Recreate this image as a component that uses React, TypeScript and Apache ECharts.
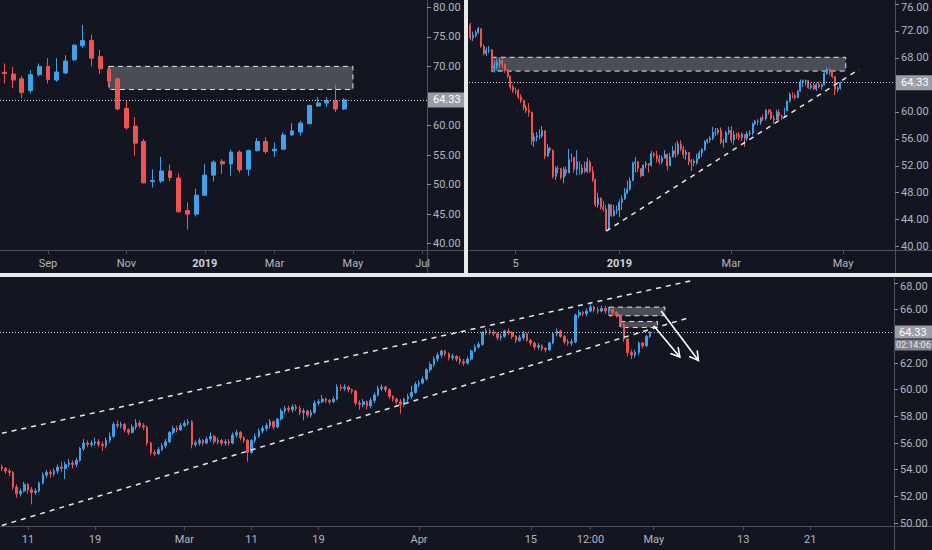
import React, { useEffect, useRef } from "react";
import * as echarts from "echarts";

// ---------- colours ----------
const UP = "#42a0e8";
const DOWN = "#ef5350";
const BG = "#131621";
const AXIS = "#4c505b";
const TXT = "#b2b5be";
const LAST_PRICE = 64.33;

// ---------- weekly panel (top-left) ----------
// [open, close, low, high]
const weeklyCandles = [
  [69.0, 68.8, 67.1, 70.5], [68.7, 67.7, 66.3, 69.9], [67.9, 65.6, 64.6, 68.4], [65.9, 68.6, 65.4, 69.4],
  [68.6, 70.0, 68.3, 70.5], [70.0, 67.8, 67.1, 71.4], [67.7, 69.05, 67.4, 71.4], [68.9, 70.9, 68.7, 71.9],
  [71.1, 73.6, 71.0, 73.7], [73.5, 74.4, 73.1, 77.0], [74.4, 71.4, 70.0, 75.4], [71.65, 69.6, 68.7, 72.8],
  [69.5, 67.5, 67.2, 69.8], [67.9, 62.8, 62.6, 68.1], [62.9, 59.6, 59.3, 64.3], [59.9, 57.0, 54.9, 61.4],
  [57.3, 50.3, 50.2, 57.7], [50.5, 50.7, 49.5, 52.6], [50.6, 52.3, 50.3, 54.7], [52.3, 51.2, 50.6, 53.4],
  [51.1, 45.4, 45.3, 51.9], [45.6, 45.0, 42.4, 47.0], [45.0, 48.2, 44.6, 49.3], [48.2, 51.6, 48.1, 53.5],
  [51.6, 53.8, 50.5, 54.1], [53.9, 53.5, 51.8, 54.3], [53.5, 55.5, 51.5, 55.9], [55.5, 52.5, 52.0, 55.8],
  [52.6, 55.75, 51.5, 55.9], [55.75, 57.3, 55.6, 57.9], [57.3, 55.6, 55.2, 58.0], [55.7, 56.0, 54.7, 57.1],
  [56.0, 58.4, 55.9, 58.8], [58.4, 59.1, 58.3, 60.4], [58.9, 60.4, 58.3, 60.8], [60.3, 63.4, 60.3, 63.5],
  [63.3, 63.8, 63.2, 64.8], [63.8, 64.2, 63.2, 64.8], [64.2, 62.8, 62.3, 66.9], [62.8, 64.33, 62.6, 64.6],
];
const weeklyCategoryCount = 49;
const weeklyTickIndex = [5, 14, 23, 31, 40, 48];
const weeklyTickText = ["Sep", "Nov", "2019", "Mar", "May", "Jul"];
const weeklyZone = { from: 12, to: 40, top: 70.0, bottom: 66.1 };

// ---------- daily panel (top-right) ----------
const dailyFirstOpen = 72.9;
const dailyClose = [
  70.97, 71.34, 71.78, 72.35, 69.75, 68.65, 69.12, 69.17, 66.43, 66.82,
  67.33, 67.59, 67.04, 66.18, 65.31, 63.69, 63.14, 63.10, 62.21, 61.67,
  60.67, 60.19, 59.93, 55.69, 56.25, 56.46, 56.46, 57.20, 53.43, 54.63,
  54.30, 50.42, 51.63, 51.56, 50.29, 51.45, 50.93, 52.95, 53.25, 51.49,
  52.61, 51.00, 51.65, 51.15, 52.58, 51.20, 49.88, 46.24, 47.20, 45.88,
  45.59, 42.53, 46.22, 44.61, 45.33, 45.41, 46.54, 47.09, 47.96, 48.52,
  49.78, 52.36, 52.59, 51.59, 50.51, 52.11, 52.31, 52.07, 53.80, 53.55,
  53.01, 52.62, 53.13, 53.69, 51.99, 53.31, 54.23, 53.79, 55.26, 54.56,
  53.66, 54.01, 52.64, 52.72, 52.41, 53.10, 53.90, 54.41, 55.59, 55.85,
  56.09, 56.92, 56.96, 57.26, 55.48, 55.50, 56.94, 57.22, 55.80, 56.59,
  56.56, 56.22, 56.66, 56.07, 56.79, 56.87, 58.26, 58.61, 58.52, 59.09,
  59.03, 60.23, 59.98, 59.04, 58.82, 59.94, 59.41, 59.30, 60.14, 61.59,
  62.58, 62.46, 62.10, 63.08, 64.40, 64.61, 64.61, 63.58, 63.89, 63.40,
  64.05, 63.76, 64.00, 65.70, 66.30, 65.89, 65.21, 63.30, 63.50, 64.33,
];
const dailyHigh = [
  73.2, 71.9, 72.1, 72.6, 72.3, 70.0, 69.6, 69.8, 69.3, 67.5,
  67.8, 68.0, 68.0, 67.2, 66.4, 65.4, 64.0, 63.6, 63.4, 62.6,
  61.8, 61.0, 61.3, 60.0, 56.9, 57.0, 57.4, 57.9, 57.2, 55.2,
  54.8, 54.4, 51.9, 52.0, 51.7, 51.8, 51.9, 54.5, 53.8, 53.3,
  54.3, 52.7, 52.2, 52.6, 53.2, 52.8, 51.9, 50.1, 48.0, 47.3,
  46.8, 46.2, 46.4, 46.2, 46.2, 46.1, 47.0, 47.6, 48.7, 49.8,
  50.3, 52.6, 53.3, 52.7, 51.4, 52.2, 52.7, 52.4, 54.2, 54.0,
  54.2, 53.6, 53.5, 54.3, 53.6, 53.9, 54.9, 55.4, 55.7, 55.8,
  54.9, 54.4, 54.0, 53.0, 53.0, 53.8, 54.3, 54.6, 55.8, 56.0,
  56.4, 57.8, 57.6, 57.6, 57.7, 56.0, 57.2, 57.8, 57.9, 57.2,
  56.9, 57.0, 56.9, 56.7, 57.1, 57.3, 58.4, 58.8, 58.9, 59.2,
  59.6, 60.4, 60.4, 60.4, 59.5, 60.3, 60.4, 59.6, 60.6, 61.7,
  62.9, 62.9, 62.7, 63.2, 64.8, 64.8, 64.8, 64.7, 64.3, 64.3,
  64.3, 64.5, 64.2, 66.0, 66.6, 66.5, 66.3, 65.3, 63.8, 64.5,
];
const dailyLow = [
  70.6, 70.5, 71.0, 71.6, 69.5, 68.4, 68.3, 68.7, 65.9, 65.8,
  66.3, 66.6, 66.5, 65.8, 65.0, 63.3, 62.8, 62.6, 61.9, 61.3,
  60.3, 59.8, 59.3, 55.1, 54.8, 55.6, 55.9, 56.1, 53.0, 53.3,
  53.9, 50.1, 49.9, 50.9, 50.0, 49.4, 50.5, 52.2, 52.6, 51.0,
  50.6, 50.7, 50.7, 50.9, 50.9, 50.9, 49.6, 45.9, 45.8, 45.5,
  45.2, 42.4, 42.4, 44.4, 44.5, 44.8, 44.4, 45.4, 46.9, 47.8,
  48.3, 49.8, 51.0, 51.1, 50.3, 50.5, 51.6, 51.0, 51.9, 53.2,
  52.5, 52.2, 52.3, 53.1, 51.3, 52.0, 53.3, 53.2, 53.5, 54.2,
  53.1, 52.9, 52.1, 51.2, 51.9, 52.2, 53.0, 53.3, 54.2, 55.3,
  55.4, 55.8, 56.4, 56.6, 55.2, 54.7, 55.4, 56.6, 55.4, 55.1,
  56.0, 55.8, 55.7, 54.8, 55.7, 56.4, 56.5, 58.0, 58.0, 58.1,
  58.7, 58.7, 59.6, 58.8, 58.2, 58.8, 58.8, 58.8, 59.2, 60.2,
  61.4, 62.0, 61.8, 62.1, 63.0, 63.7, 63.9, 63.4, 63.3, 63.2,
  63.1, 63.5, 63.3, 63.9, 65.5, 65.4, 65.0, 62.5, 62.9, 63.3,
];
const dailyCategoryCount = 160;
const dailyTickIndex = [17, 56, 98, 140];
const dailyTickText = ["5", "2019", "Mar", "May"];
const dailyZone = { from: 8, to: 141, top: 68.1, bottom: 66.05 };
const dailyTrend = [[51, 42.3], [146, 66.3]];

// ---------- intraday panel (bottom) ----------
const hourlyFirstOpen = 54.2;
const hourlyClose = [
  54.1, 53.9, 53.8, 52.7, 52.2, 52.4, 52.9, 52.5, 52.3, 52.4,
  53.0, 53.6, 53.8, 53.7, 53.9, 54.2, 54.1, 54.4, 54.5, 54.4,
  54.7, 55.6, 56.0, 55.9, 56.0, 56.1, 55.9, 55.8, 56.2, 56.5,
  57.4, 57.3, 57.4, 57.0, 56.8, 57.2, 57.5, 57.3, 57.2, 56.0,
  55.3, 55.2, 55.5, 55.8, 56.1, 56.8, 57.1, 57.0, 57.3, 57.5,
  57.6, 55.9, 56.0, 56.2, 56.0, 56.3, 56.5, 56.1, 56.2, 56.0,
  56.1, 56.0, 56.6, 56.8, 56.4, 56.2, 55.3, 56.2, 56.5, 56.9,
  57.1, 57.3, 57.6, 57.2, 57.8, 58.4, 58.6, 58.5, 58.7, 58.6,
  58.3, 58.4, 58.1, 58.3, 59.0, 59.1, 59.3, 59.2, 59.1, 59.3,
  60.2, 60.1, 60.2, 60.0, 59.9, 59.0, 58.9, 59.1, 58.8, 59.2,
  59.6, 60.1, 60.2, 60.0, 59.5, 59.3, 59.1, 58.9, 59.3, 59.5,
  59.8, 60.4, 60.5, 60.8, 61.5, 61.9, 62.3, 62.6, 62.9, 62.7,
  62.4, 62.5, 62.3, 62.1, 62.0, 62.3, 62.9, 63.2, 63.4, 64.3,
  64.4, 64.3, 64.2, 63.9, 64.0, 64.4, 64.3, 64.0, 63.7, 63.9,
  64.2, 63.7, 63.5, 63.2, 63.3, 63.1, 63.0, 63.5, 64.2, 64.4,
  64.0, 63.6, 63.5, 63.6, 65.6, 65.8, 65.7, 65.9, 66.2, 66.0,
  65.9, 66.1, 65.9, 66.0, 65.8, 65.6, 64.9, 63.8, 62.8, 62.6,
  62.8, 63.5, 63.3, 64.0, 64.33,
];
const hourlyHigh = [
  54.4, 54.2, 54.1, 53.9, 52.9, 52.6, 53.1, 53.0, 52.7, 52.6,
  53.1, 53.8, 54.0, 54.0, 54.1, 54.4, 54.6, 54.6, 54.8, 54.7,
  54.9, 55.7, 56.3, 56.2, 56.2, 56.4, 56.3, 56.1, 56.4, 56.8,
  57.6, 57.7, 57.6, 57.5, 57.1, 57.4, 57.8, 57.7, 57.5, 57.3,
  56.1, 55.5, 55.7, 56.0, 56.3, 56.9, 57.3, 57.3, 57.5, 57.7,
  57.8, 57.7, 56.2, 56.4, 56.3, 56.5, 56.8, 56.6, 56.4, 56.3,
  56.3, 56.3, 56.8, 57.0, 56.9, 56.5, 56.3, 56.3, 56.7, 57.1,
  57.3, 57.5, 57.8, 57.7, 57.9, 58.6, 58.8, 58.8, 58.9, 58.9,
  58.8, 58.6, 58.5, 58.5, 59.2, 59.3, 59.6, 59.4, 59.3, 59.5,
  60.4, 60.4, 60.4, 60.3, 60.1, 60.0, 59.2, 59.3, 59.2, 59.4,
  59.8, 60.3, 60.4, 60.3, 60.1, 59.6, 59.4, 59.3, 59.4, 59.7,
  60.3, 60.6, 60.7, 61.0, 61.6, 62.1, 62.5, 62.8, 63.0, 63.0,
  62.8, 62.7, 62.6, 62.5, 62.3, 62.5, 63.0, 63.4, 63.6, 64.4,
  64.6, 64.6, 64.5, 64.3, 64.2, 64.5, 64.6, 64.4, 64.1, 64.1,
  64.4, 64.3, 63.8, 63.6, 63.5, 63.4, 63.2, 63.6, 64.3, 64.6,
  64.5, 64.1, 63.8, 63.8, 65.7, 66.0, 65.9, 66.1, 66.4, 66.3,
  66.2, 66.3, 66.3, 66.2, 66.1, 65.9, 65.7, 65.0, 63.9, 63.0,
  63.0, 63.6, 63.6, 64.1, 64.4,
];
const hourlyLow = [
  53.9, 53.7, 53.5, 52.5, 51.9, 52.0, 52.3, 52.2, 51.4, 52.1,
  52.3, 52.9, 53.4, 53.4, 53.5, 53.7, 53.8, 53.3, 54.2, 54.1,
  54.2, 54.6, 55.4, 55.7, 55.7, 55.8, 55.7, 55.4, 55.6, 56.0,
  56.4, 57.1, 57.1, 56.8, 56.6, 56.7, 57.0, 57.1, 57.0, 55.8,
  55.1, 55.0, 55.1, 55.4, 55.6, 56.0, 56.6, 56.8, 56.9, 57.2,
  57.3, 55.6, 55.7, 55.8, 55.8, 55.9, 56.1, 55.9, 55.9, 55.8,
  55.8, 55.8, 55.9, 56.4, 56.2, 56.0, 54.6, 55.2, 56.0, 56.4,
  56.7, 56.9, 57.1, 57.0, 57.1, 57.7, 58.2, 58.3, 58.3, 58.4,
  58.1, 57.7, 57.9, 57.9, 58.2, 58.8, 59.0, 59.0, 58.9, 59.0,
  59.2, 59.9, 59.9, 59.8, 59.7, 58.8, 58.5, 58.7, 58.5, 58.6,
  59.0, 59.5, 59.9, 59.8, 59.3, 59.1, 58.9, 58.2, 58.7, 59.1,
  59.3, 59.7, 60.2, 60.4, 60.7, 61.3, 61.7, 62.1, 62.4, 62.5,
  62.2, 62.2, 62.1, 61.9, 61.8, 61.9, 62.2, 62.8, 63.1, 63.3,
  64.1, 64.1, 64.0, 63.7, 63.7, 63.9, 64.1, 63.8, 63.5, 63.6,
  63.7, 63.6, 63.3, 63.0, 63.0, 62.9, 62.8, 62.9, 63.4, 64.0,
  63.9, 63.4, 63.3, 63.3, 63.5, 65.4, 65.5, 65.5, 65.8, 65.8,
  65.7, 65.8, 65.7, 65.7, 65.6, 65.4, 64.7, 63.6, 62.5, 62.3,
  62.4, 62.6, 63.1, 63.2, 63.9,
];
const hourlyCategoryCount = 240;
const hourlyTickIndex = [7, 25, 49, 67, 85, 112, 142, 158, 175, 199, 217];
const hourlyTickText = ["11", "19", "Mar", "11", "19", "Apr", "15", "12:00", "May", "13", "21"];
const hourlyZones = [
  { from: 163, to: 178, top: 66.2, bottom: 65.55 },
  { from: 166, to: 176, top: 65.12, bottom: 64.67 },
];
const hourlyChannelUpper = [[0, 56.73], [185, 68.17]];
const hourlyChannelLower = [[0, 49.82], [185, 65.45]];
// [fromIndex, fromPrice, toIndex, toPrice]
const hourlyArrows = [
  [175, 64.8, 182, 62.45],
  [177, 65.9, 187, 62.2],
];
const countdownText = "02:14:06";

// ---------- helpers ----------
function buildCandles(first: number, close: number[], high: number[], low: number[]) {
  return close.map((c, i) => {
    const o = i === 0 ? first : close[i - 1];
    return [o, c, Math.min(low[i], o, c), Math.max(high[i], o, c)];
  });
}
const cats = (n: number) => Array.from({ length: n }, (_, i) => String(i));

function xAxisFor(gridIndex: number, count: number, tickIdx: number[], tickText: string[]) {
  const show = (i: number) => tickIdx.indexOf(i) >= 0;
  return {
    type: "category",
    gridIndex,
    data: cats(count),
    boundaryGap: true,
    axisLine: { show: true, lineStyle: { color: AXIS, width: 1 } },
    axisTick: { show: true, interval: (i: number) => show(i), alignWithLabel: true, length: 4, lineStyle: { color: AXIS } },
    axisLabel: {
      show: true,
      interval: (i: number) => show(i),
      hideOverlap: false,
      color: TXT,
      fontSize: 11,
      fontFamily: "Roboto",
      margin: 8,
      formatter: (_v: string, i: number) => {
        const t = tickText[tickIdx.indexOf(i)] ?? "";
        return /^\d{4}$/.test(t) ? `{y|${t}}` : t;
      },
      rich: { y: { fontWeight: "bold", color: "#d1d4dc", fontSize: 11, fontFamily: "Roboto" } },
    },
    splitLine: { show: false },
  };
}

function yAxisFor(gridIndex: number, min: number, max: number, ticks: number[]) {
  const top = Math.max(...ticks);
  return {
    type: "value",
    gridIndex,
    position: "right",
    min,
    max,
    scale: true,
    axisLine: { show: true, lineStyle: { color: AXIS, width: 1 } },
    axisTick: { show: true, customValues: ticks, length: 4, lineStyle: { color: "#8a8e99" } },
    axisLabel: {
      show: true,
      customValues: ticks,
      color: TXT,
      fontSize: 11,
      fontFamily: "Roboto",
      margin: 6,
      // keep the top label inside the picture when it sits close to the top edge
      formatter: (v: number) =>
        v === top && max - top < 1 ? `{t|${v.toFixed(2)}}` : v.toFixed(2),
      rich: { t: { color: TXT, fontSize: 11, fontFamily: "Roboto", padding: [7, 0, 0, 0] } },
    },
    splitLine: { show: false },
  };
}

const candleStyle = { color: UP, color0: DOWN, borderColor: UP, borderColor0: DOWN, borderWidth: 1 };
const zoneStyle = { color: "rgba(150,152,160,0.42)", borderColor: "#e4e4e8", borderWidth: 1, borderType: [5, 4] };
const priceLineStyle = { type: [1, 2], color: "#c9ccd4", width: 1 };
const trendStyle = { type: [5, 5], color: "#e8e8ec", width: 1.5 };
const priceLabel = {
  show: true,
  position: "end",
  distance: 1,
  formatter: LAST_PRICE.toFixed(2),
  backgroundColor: "#9a9da5",
  color: "#ffffff",
  padding: [2, 5, 2, 5],
  fontSize: 11,
  fontFamily: "Roboto",
};

export default function App() {
  const ref = useRef<HTMLDivElement>(null);

  useEffect(() => {
    document.body.style.margin = "0";
    if (!ref.current) return;
    const chart = echarts.init(ref.current, undefined, { renderer: "svg" });

    const weeklyData = weeklyCandles;
    const dailyData = buildCandles(dailyFirstOpen, dailyClose, dailyHigh, dailyLow);
    const hourlyData = buildCandles(hourlyFirstOpen, hourlyClose, hourlyHigh, hourlyLow);

    const zoneArea = (z: { from: number; to: number; top: number; bottom: number }) => [
      { coord: [z.from, z.top] },
      { coord: [z.to, z.bottom] },
    ];

    const option: any = {
      animation: false,
      backgroundColor: BG,
      textStyle: { fontFamily: "Roboto" },
      grid: [
        { left: 0, top: 0, width: 427, height: 250, containLabel: false, outerBoundsMode: "none" },
        { left: 469, top: 0, width: 426, height: 250, containLabel: false, outerBoundsMode: "none" },
        { left: 0, top: 278, width: 894, height: 248, containLabel: false, outerBoundsMode: "none" },
      ],
      xAxis: [
        xAxisFor(0, weeklyCategoryCount, weeklyTickIndex, weeklyTickText),
        xAxisFor(1, dailyCategoryCount, dailyTickIndex, dailyTickText),
        xAxisFor(2, hourlyCategoryCount, hourlyTickIndex, hourlyTickText),
      ],
      yAxis: [
        yAxisFor(0, 38.93, 81.24, [40, 45, 50, 55, 60, 70, 75, 80]),
        yAxisFor(1, 39.5, 76.6, [40, 44, 48, 52, 56, 60, 68, 72, 76]),
        yAxisFor(2, 49.78, 68.38, [50, 52, 54, 56, 58, 60, 62, 66, 68]),
      ],
      series: [
        {
          type: "candlestick",
          name: "weekly",
          xAxisIndex: 0,
          yAxisIndex: 0,
          data: weeklyData,
          barWidth: "50%",
          itemStyle: candleStyle,
          markArea: { silent: true, itemStyle: zoneStyle, data: [zoneArea(weeklyZone)] },
          markLine: {
            silent: true,
            symbol: ["none", "none"],
            data: [{ yAxis: LAST_PRICE, lineStyle: priceLineStyle, label: priceLabel }],
          },
        },
        {
          type: "candlestick",
          name: "daily",
          xAxisIndex: 1,
          yAxisIndex: 1,
          data: dailyData,
          barWidth: "55%",
          itemStyle: candleStyle,
          markArea: { silent: true, itemStyle: zoneStyle, data: [zoneArea(dailyZone)] },
          markLine: {
            silent: true,
            symbol: ["none", "none"],
            data: [
              { yAxis: LAST_PRICE, lineStyle: priceLineStyle, label: priceLabel },
              [
                { coord: dailyTrend[0], lineStyle: trendStyle, label: { show: false } },
                { coord: dailyTrend[1] },
              ],
            ],
          },
        },
        {
          type: "candlestick",
          name: "intraday",
          xAxisIndex: 2,
          yAxisIndex: 2,
          data: hourlyData,
          barWidth: "58%",
          itemStyle: candleStyle,
          markArea: { silent: true, itemStyle: zoneStyle, data: hourlyZones.map(zoneArea) },
          markLine: {
            silent: true,
            symbol: ["none", "none"],
            data: [
              {
                yAxis: LAST_PRICE,
                lineStyle: priceLineStyle,
                label: {
                  show: true,
                  position: "end",
                  distance: 1,
                  formatter: `{e| }\n{a|${LAST_PRICE.toFixed(2)}}\n{b|${countdownText}}`,
                  align: "left",
                  rich: {
                    e: { fontSize: 11, lineHeight: 13, padding: [1, 4, 1, 4], backgroundColor: "transparent" },
                    a: { fontSize: 11, lineHeight: 13, padding: [1, 4, 1, 4], color: "#ffffff", backgroundColor: "#9a9da5", width: 30, fontFamily: "Roboto" },
                    b: { fontSize: 9, lineHeight: 13, padding: [1, 1, 1, 1], color: "#ececec", backgroundColor: "#80838b", width: 35, fontFamily: "Roboto" },
                  },
                },
              },
              [
                { coord: hourlyChannelUpper[0], lineStyle: trendStyle, label: { show: false } },
                { coord: hourlyChannelUpper[1] },
              ],
              [
                { coord: hourlyChannelLower[0], lineStyle: trendStyle, label: { show: false } },
                { coord: hourlyChannelLower[1] },
              ],
            ],
          },
        },
        {
          type: "custom",
          name: "arrows",
          xAxisIndex: 2,
          yAxisIndex: 2,
          silent: true,
          clip: false,
          dimensions: ["x0", "y0", "x1", "y1"],
          encode: { x: 0, y: 1 },
          data: hourlyArrows,
          z: 10,
          renderItem: (_params: any, api: any) => {
            const p0 = api.coord([api.value(0), api.value(1)]);
            const p1 = api.coord([api.value(2), api.value(3)]);
            const ang = Math.atan2(p1[1] - p0[1], p1[0] - p0[0]);
            const L = 10;
            const A = Math.PI / 6;
            const h1 = [p1[0] - L * Math.cos(ang - A), p1[1] - L * Math.sin(ang - A)];
            const h2 = [p1[0] - L * Math.cos(ang + A), p1[1] - L * Math.sin(ang + A)];
            return {
              type: "group",
              children: [
                { type: "line", shape: { x1: p0[0], y1: p0[1], x2: p1[0], y2: p1[1] }, style: { stroke: "#ffffff", lineWidth: 1.6 } },
                { type: "polyline", shape: { points: [h1, p1, h2] }, style: { stroke: "#ffffff", lineWidth: 1.6, fill: null } },
              ],
            };
          },
        },
      ],
      graphic: [
        { type: "line", shape: { x1: 427, y1: 250.5, x2: 464, y2: 250.5 }, style: { stroke: AXIS, lineWidth: 1 }, silent: true },
        { type: "line", shape: { x1: 427.5, y1: 250, x2: 427.5, y2: 273 }, style: { stroke: AXIS, lineWidth: 1 }, silent: true },
        { type: "line", shape: { x1: 895, y1: 250.5, x2: 932, y2: 250.5 }, style: { stroke: AXIS, lineWidth: 1 }, silent: true },
        { type: "line", shape: { x1: 895.5, y1: 250, x2: 895.5, y2: 273 }, style: { stroke: AXIS, lineWidth: 1 }, silent: true },
        { type: "line", shape: { x1: 894, y1: 526.5, x2: 932, y2: 526.5 }, style: { stroke: AXIS, lineWidth: 1 }, silent: true },
        { type: "line", shape: { x1: 894.5, y1: 526, x2: 894.5, y2: 550 }, style: { stroke: AXIS, lineWidth: 1 }, silent: true },
        { type: "rect", shape: { x: 464, y: 0, width: 4, height: 275 }, style: { fill: "#e8e9ec" }, z: 100, silent: true },
        { type: "rect", shape: { x: 0, y: 273, width: 932, height: 4 }, style: { fill: "#e8e9ec" }, z: 100, silent: true },
      ],
    };

    chart.setOption(option);
    return () => chart.dispose();
  }, []);

  return (
    <div
      ref={ref}
      style={{ position: "fixed", left: 0, top: 0, width: 932, height: 550, background: BG }}
    />
  );
}
